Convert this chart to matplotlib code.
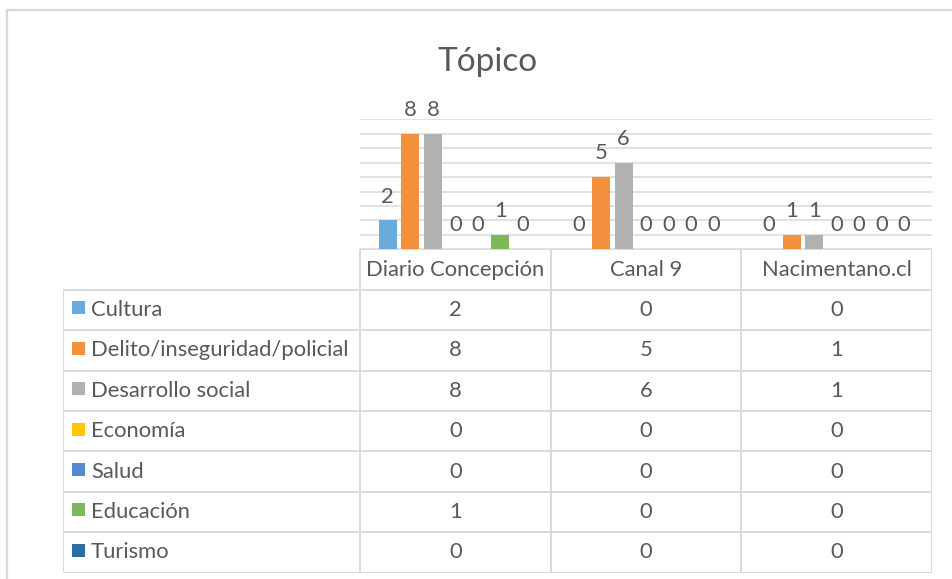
import numpy as np
import matplotlib.pyplot as plt
from matplotlib.patches import Rectangle

plt.rcParams['font.family'] = ['Lato', 'DejaVu Sans']

# data
medios = ['Diario Concepción', 'Canal 9', 'Nacimentano.cl']
topicos = ['Cultura', 'Delito/inseguridad/policial', 'Desarrollo social',
           'Economía', 'Salud', 'Educación', 'Turismo']
cultura = [2, 0, 0]
delito = [8, 5, 1]
desarrollo = [8, 6, 1]
economia = [0, 0, 0]
salud = [0, 0, 0]
educacion = [1, 0, 0]
turismo = [0, 0, 0]
series = [cultura, delito, desarrollo, economia, salud, educacion, turismo]
colores = ['#6BAADD', '#F4913F', '#B1B1B1', '#FFC800', '#5A88D0', '#7FB85A', '#2E6DA4']

txt = '#595959'
grid = '#D9D9D9'
W, H = 952, 579
fs = 15.8

def fx(px):
    return px / W

def fy(py):
    return 1 - py / H

fig = plt.figure(figsize=(9.52, 5.79), dpi=100)

# outer border (left and top only visible)
fig.add_artist(plt.Line2D([fx(7), fx(7)], [fy(10), 0], color=grid, lw=1.6))
fig.add_artist(plt.Line2D([fx(7), 1], [fy(10), fy(10)], color=grid, lw=1.6))

fig.text(fx(488), fy(62), 'Tópico', ha='center', va='center', fontsize=24, color=txt)

# bars
ax = fig.add_axes([fx(360), fy(249.3), fx(932) - fx(360), (249.3 - 119.3) / H])
ax.set_xlim(-0.5, 2.5)
ax.set_ylim(0, 9)
step = 22.5 / 190.7
bw = 18 / 190.7
x = np.arange(len(medios))
for i, (vals, c) in enumerate(zip(series, colores)):
    xs = x + (i - 3) * step
    ax.bar(xs, vals, width=bw, color=c, zorder=3)
    for xi, v in zip(xs, vals):
        ax.annotate(str(v), (xi, v), xytext=(0, 10), textcoords='offset points',
                    ha='center', va='bottom', fontsize=fs, color=txt,
                    annotation_clip=False)
ax.set_yticks(range(0, 10))
ax.grid(axis='y', color=grid, lw=1.1, zorder=0)
ax.tick_params(left=False, bottom=False, labelleft=False, labelbottom=False)
for s in ax.spines.values():
    s.set_visible(False)

# data table
tab = fig.add_axes([fx(63), fy(572.6), fx(932) - fx(63), (572.6 - 249.3) / H])
x0 = -0.5 - 297 / 190.7
tab.set_xlim(x0, 2.5)
tab.set_ylim(8, 0)
tab.axis('off')
lk = dict(color=grid, lw=1.4, solid_capstyle='butt')
tab.plot([-0.5, 2.5], [0, 0], **lk)
for r in range(1, 9):
    tab.plot([x0, 2.5], [r, r], **lk)
tab.plot([x0, x0], [1, 8], **lk)
for xv in [-0.5, 0.5, 1.5, 2.5]:
    tab.plot([xv, xv], [0, 8], **lk)

for j, m in enumerate(medios):
    tab.text(j, 0.5, m, ha='center', va='center', fontsize=fs, color=txt)

u = 1 / 190.7
for i, (name, vals, c) in enumerate(zip(topicos, series, colores)):
    r = i + 1
    tab.add_patch(Rectangle((x0 + 9 * u, r + 0.45 - 0.16), 13 * u, 0.32, color=c, lw=0))
    tab.text(x0 + 28 * u, r + 0.5, name, ha='left', va='center', fontsize=fs, color=txt)
    for j, v in enumerate(vals):
        tab.text(j, r + 0.5, str(v), ha='center', va='center', fontsize=fs, color=txt)

fig.savefig('out.png', dpi=100)
